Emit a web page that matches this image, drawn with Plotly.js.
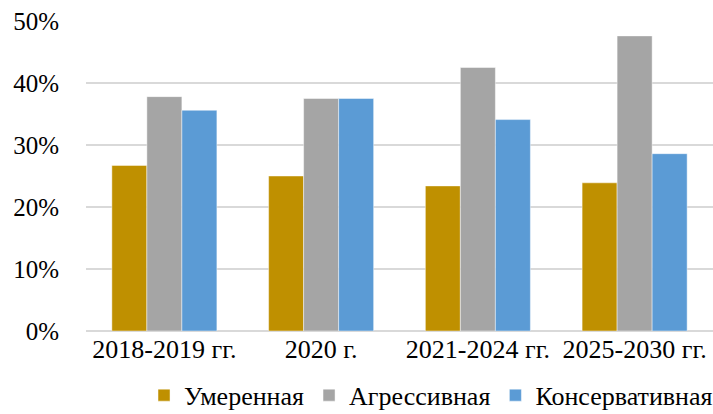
<!DOCTYPE html>
<html><head><meta charset="utf-8">
<script src="https://cdn.plot.ly/plotly-3.0.1.min.js"></script>
<style>html,body{margin:0;padding:0;background:#fff}</style>
</head><body><div id="chart" style="width:713px;height:414px"></div>
<script>
var categories = ["2018-2019 гг.", "2020 г.", "2021-2024 гг.", "2025-2030 гг."];
var moderate = [0.267, 0.250, 0.234, 0.239];
var aggressive = [0.378, 0.375, 0.425, 0.476];
var conservative = [0.356, 0.375, 0.341, 0.286];
var seriesNames = ["Умеренная", "Агрессивная", "Консервативная"];
var colors = ["#BF9000", "#A5A5A5", "#5B9BD5"];
var vals = [moderate, aggressive, conservative];
var traces = vals.map(function(v, i){
  return {type:'bar', x:categories, y:v, name:seriesNames[i],
    marker:{color:colors[i], line:{color:'rgba(255,255,255,0.6)', width:0.75}}};
});
var FONT = 'Times New Roman, Liberation Serif, DejaVu Serif, serif';
var layout = {
  width:713, height:414,
  margin:{l:86, r:0, t:21, b:83, autoexpand:false},
  font:{family:FONT, size:24, color:'#000'},
  barmode:'group', bargap:0.33, bargroupgap:0,
  paper_bgcolor:'#fff', plot_bgcolor:'#fff',
  xaxis:{showgrid:false, showline:false, zeroline:false, ticks:'', tickfont:{family:FONT, size:26, color:'#000'}, automargin:false},
  yaxis:{range:[0,0.5], dtick:0.1, tickformat:'.0%', showgrid:true, gridcolor:'#d9d9d9', gridwidth:1.3,
    zeroline:true, zerolinecolor:'#d9d9d9', zerolinewidth:1.3, showline:false, ticks:'',
    ticklabelstandoff:26, tickfont:{family:FONT, size:25, color:'#000'}, automargin:false},
  showlegend:true,
  legend:{orientation:'h', x:1.008, xanchor:'right', y:-0.283, yanchor:'bottom', font:{family:FONT, size:26, color:'#000'},
    itemwidth:30, traceorder:'normal', bgcolor:'rgba(0,0,0,0)'}
};
Plotly.newPlot('chart', traces, layout, {staticPlot:true, displayModeBar:false});
</script></body></html>
